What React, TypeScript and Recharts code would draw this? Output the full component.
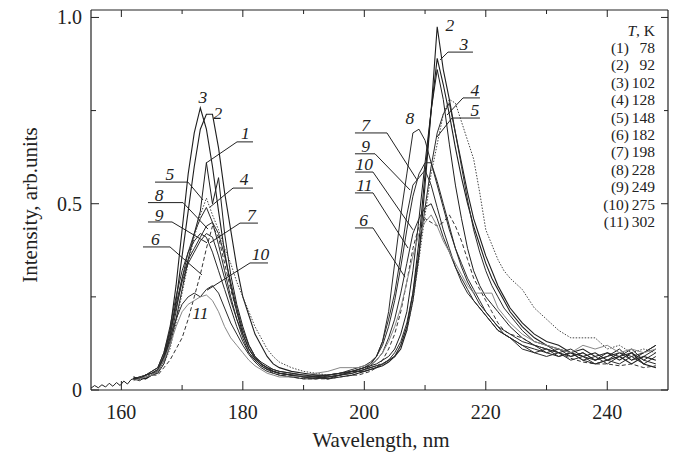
import React from 'react';
import { LineChart, Line, XAxis, YAxis, ReferenceLine, ReferenceDot } from 'recharts';

// ---------------- data ----------------
const wavelengths = [162,163,164,165,166,167,168,169,170,171,172,173,174,175,176,177,178,179,180,181,182,183,184,185,186,188,190,192,194,196,198,199,200,201,202,203,204,205,206,207,208,209,210,211,212,213,214,215,216,217,218,219,220,221,222,223,224,226,228,230,232,234,236,238,240,242,244,246,248];

const leadWavelengths = [155, 155.6, 156.2, 156.8, 157.4, 158, 158.6, 159.2, 159.8, 160.4, 161, 161.6, 162];
const leadIntensity = [0.005, 0.012, 0.006, 0.014, 0.008, 0.018, 0.01, 0.02, 0.012, 0.024, 0.016, 0.028, 0.03];

const curve1 = [0.03,0.025,0.035,0.04,0.045,0.07,0.12,0.19,0.27,0.35, 0.42,0.48,0.61,0.50,0.57,0.42,0.31,0.23,0.17,0.12, 0.09,0.075,0.065,0.055,0.05, 0.045,0.04,0.035,0.04,0.045,0.05, 0.055,0.06,0.065,0.07,0.08,0.09,0.11,0.15,0.21,0.32, 0.46,0.61,0.75,0.86,0.78,0.66,0.55,0.46,0.38,0.32, 0.28,0.25,0.23,0.21,0.19,0.17, 0.14,0.12,0.11,0.10,0.09,0.10,0.08,0.09,0.11,0.08,0.10,0.12];
const curve2 = [0.035,0.03,0.03,0.04,0.05,0.08,0.14,0.24,0.36,0.48, 0.60,0.70,0.74,0.74,0.65,0.53,0.43,0.33,0.25,0.20, 0.15,0.12,0.09,0.07,0.06, 0.05,0.045,0.04,0.04,0.045,0.05, 0.05,0.055,0.06,0.065,0.07,0.08,0.09,0.11,0.16,0.24, 0.36,0.55,0.75,0.975,0.86,0.78,0.69,0.61,0.53,0.46, 0.41,0.36,0.32,0.28,0.25,0.22, 0.18,0.15,0.13,0.12,0.10,0.09,0.10,0.08,0.09,0.07,0.09,0.08];
const curve3 = [0.03,0.035,0.03,0.04,0.05,0.09,0.16,0.28,0.43,0.58, 0.69,0.757,0.70,0.60,0.48,0.37,0.28,0.21,0.15,0.11, 0.085,0.07,0.06,0.05,0.045, 0.04,0.035,0.035,0.03,0.035,0.04, 0.045,0.05,0.055,0.06,0.065,0.075,0.09,0.12,0.17,0.26, 0.40,0.58,0.75,0.89,0.82,0.74,0.65,0.57,0.50,0.44, 0.39,0.34,0.30,0.27,0.24,0.21, 0.17,0.14,0.12,0.11,0.10,0.11,0.09,0.10,0.08,0.10,0.07,0.06];
const curve4 = [0.03,0.03,0.04,0.045,0.05,0.08,0.13,0.21,0.30,0.37, 0.42,0.46,0.49,0.45,0.42,0.36,0.29,0.22,0.16,0.12, 0.09,0.07,0.06,0.055,0.05, 0.045,0.04,0.04,0.035,0.04,0.045, 0.05,0.05,0.055,0.06,0.07,0.08,0.10,0.13,0.18,0.26, 0.37,0.49,0.60,0.69,0.74,0.77,0.69,0.60,0.51,0.43, 0.37,0.32,0.28,0.25,0.22,0.20, 0.16,0.13,0.12,0.10,0.11,0.09,0.08,0.10,0.09,0.11,0.08,0.10];
const curve5 = [0.03,0.035,0.04,0.04,0.05,0.07,0.11,0.18,0.26,0.34, 0.41,0.47,0.515,0.47,0.43,0.38,0.34,0.29,0.25,0.21, 0.17,0.14,0.11,0.09,0.075, 0.06,0.05,0.045,0.04,0.045,0.05, 0.05,0.055,0.06,0.065,0.07,0.08,0.09,0.12,0.16,0.24, 0.35,0.47,0.58,0.66,0.74,0.78,0.77,0.72,0.67,0.62, 0.53,0.43,0.39,0.35,0.32,0.30, 0.27,0.22,0.19,0.16,0.14,0.14,0.14,0.11,0.12,0.10,0.11,0.10];
const curve6 = [0.03,0.03,0.035,0.04,0.04,0.06,0.08,0.11,0.14,0.19, 0.25,0.31,0.38,0.44,0.41,0.34,0.27,0.21,0.16,0.12, 0.09,0.07,0.055,0.045,0.04, 0.035,0.03,0.03,0.03,0.035,0.04, 0.04,0.045,0.05,0.06,0.08,0.11,0.15,0.21,0.29,0.38, 0.44,0.46,0.45,0.44,0.45,0.47,0.44,0.40,0.35,0.30, 0.27,0.24,0.21,0.18,0.16,0.15, 0.14,0.12,0.11,0.10,0.085,0.075,0.07,0.07,0.065,0.07,0.06,0.065];
const curve7 = [0.03,0.03,0.04,0.045,0.055,0.09,0.15,0.22,0.29,0.34, 0.37,0.40,0.42,0.41,0.36,0.30,0.24,0.19,0.15,0.11, 0.085,0.07,0.06,0.05,0.045, 0.04,0.035,0.03,0.035,0.04,0.05, 0.055,0.06,0.07,0.09,0.12,0.17,0.24,0.33,0.43,0.52, 0.58,0.61,0.61,0.56,0.50,0.44,0.38,0.33,0.29,0.26, 0.23,0.21,0.19,0.17,0.16,0.15, 0.13,0.12,0.10,0.09,0.10,0.08,0.09,0.07,0.09,0.10,0.08,0.07];
const curve8 = [0.035,0.03,0.04,0.05,0.06,0.10,0.16,0.23,0.30,0.35, 0.38,0.41,0.44,0.45,0.39,0.32,0.25,0.19,0.14,0.10, 0.08,0.065,0.055,0.05,0.045, 0.04,0.04,0.035,0.04,0.045,0.055, 0.06,0.065,0.075,0.09,0.13,0.21,0.34,0.47,0.58,0.69, 0.70,0.67,0.61,0.55,0.49,0.43,0.38,0.34,0.30,0.27, 0.24,0.21,0.19,0.17,0.15,0.14, 0.12,0.11,0.10,0.11,0.09,0.10,0.08,0.09,0.10,0.08,0.09,0.11];
const curve9 = [0.03,0.035,0.04,0.05,0.06,0.10,0.17,0.25,0.32,0.37, 0.40,0.42,0.41,0.37,0.32,0.27,0.22,0.17,0.13,0.10, 0.08,0.065,0.055,0.05,0.045, 0.04,0.035,0.035,0.03,0.04,0.05, 0.055,0.06,0.07,0.09,0.13,0.19,0.26,0.36,0.47,0.55, 0.57,0.59,0.55,0.49,0.43,0.38,0.33,0.29,0.26,0.24, 0.22,0.20,0.18,0.16,0.15,0.14, 0.12,0.10,0.11,0.09,0.10,0.08,0.07,0.08,0.10,0.09,0.07,0.09];
const curve10 = [0.03,0.03,0.04,0.045,0.055,0.09,0.14,0.19,0.23,0.25, 0.26,0.25,0.27,0.28,0.26,0.22,0.18,0.15,0.12,0.095, 0.075,0.06,0.05,0.045,0.04, 0.035,0.03,0.03,0.035,0.04,0.045, 0.05,0.055,0.065,0.08,0.10,0.14,0.19,0.26,0.34,0.42, 0.46,0.49,0.50,0.46,0.41,0.37,0.33,0.30,0.27,0.24, 0.22,0.20,0.18,0.16,0.15,0.14, 0.11,0.10,0.09,0.10,0.08,0.09,0.07,0.08,0.07,0.09,0.10,0.12];
const curve11 = [0.025,0.03,0.035,0.04,0.05,0.08,0.12,0.17,0.21,0.23, 0.24,0.25,0.255,0.24,0.21,0.17,0.14,0.12,0.10,0.08, 0.065,0.055,0.045,0.04,0.035, 0.035,0.04,0.045,0.05,0.06,0.06, 0.06,0.065,0.07,0.08,0.10,0.13,0.17,0.22,0.29,0.36, 0.42,0.45,0.47,0.44,0.40,0.37,0.34,0.31,0.28,0.26, 0.26,0.26,0.26,0.22,0.20,0.18, 0.15,0.13,0.12,0.11,0.10,0.12,0.11,0.12,0.10,0.11,0.10,0.11];

const curveNumbers = ['1','2','3','4','5','6','7','8','9','10','11'];
const temperatures = [78, 92, 102, 128, 148, 182, 198, 228, 249, 275, 302];

const xTicks = [160, 170, 180, 190, 200, 210, 220, 230, 240];
const xLabeledTicks = [160, 180, 200, 220, 240];
const yTicks = [0, 0.25, 0.5, 0.75, 1.0];
const yTickLabels: Record<string, string> = { '0': '0', '0.5': '0.5', '1': '1.0' };

// curve label annotations (data coordinates): text position, underline, leader
type Ann = { t: string; x: number; y: number; u?: [number, number, number]; l?: [number, number, number, number] };
const annotations: Ann[] = [
  { t: '3', x: 173.44, y: 0.787 },
  { t: '2', x: 175.9, y: 0.744 },
  { t: '1', x: 180.4, y: 0.69, u: [179.04, 181.67, 0.666], l: [179.04, 0.666, 173.93, 0.609] },
  { t: '5', x: 168.0, y: 0.58, u: [165.54, 170.97, 0.558], l: [170.97, 0.558, 173.44, 0.51] },
  { t: '4', x: 180.2, y: 0.566, u: [178.38, 181.67, 0.542], l: [178.38, 0.542, 174.59, 0.491] },
  { t: '8', x: 166.2, y: 0.524, u: [164.38, 170.15, 0.503], l: [170.15, 0.503, 174.26, 0.432] },
  { t: '9', x: 166.2, y: 0.471, u: [164.38, 168.34, 0.451], l: [168.34, 0.451, 174.1, 0.395] },
  { t: '7', x: 181.4, y: 0.47, u: [179.53, 182.49, 0.448], l: [179.53, 0.448, 174.59, 0.395] },
  { t: '6', x: 165.6, y: 0.406, u: [163.56, 168.01, 0.384], l: [168.01, 0.384, 173.27, 0.309] },
  { t: '10', x: 182.9, y: 0.364, u: [181.18, 184.14, 0.341], l: [181.18, 0.341, 174.1, 0.268] },
  { t: '11', x: 173.0, y: 0.207 },
  { t: '2', x: 214.1, y: 0.98 },
  { t: '3', x: 216.4, y: 0.93, u: [213.78, 217.89, 0.907], l: [213.78, 0.907, 212.47, 0.886] },
  { t: '4', x: 218.2, y: 0.806, u: [216.25, 219.04, 0.784], l: [216.25, 0.784, 213.61, 0.738] },
  { t: '5', x: 218.2, y: 0.752, u: [214.43, 219.04, 0.73], l: [214.43, 0.73, 211.96, 0.679] },
  { t: '8', x: 207.5, y: 0.73 },
  { t: '7', x: 200.2, y: 0.712, u: [198.46, 203.73, 0.69], l: [203.73, 0.69, 208.67, 0.564] },
  { t: '9', x: 200.2, y: 0.656, u: [198.46, 201.76, 0.634], l: [201.76, 0.634, 207.52, 0.537] },
  { t: '10', x: 200.0, y: 0.607, u: [198.46, 201.43, 0.585], l: [201.43, 0.585, 208.01, 0.43] },
  { t: '11', x: 200.0, y: 0.551, u: [198.46, 201.43, 0.529], l: [201.43, 0.529, 207.19, 0.381] },
  { t: '6', x: 199.9, y: 0.457, u: [198.46, 201.43, 0.435], l: [201.43, 0.435, 206.7, 0.303] },
];

// ---------------- layout / style ----------------
const W = 675;
const H = 452;
const PLOT_LEFT = 91;
const PLOT_RIGHT = 668;
const PLOT_TOP = 10;
const PLOT_BOTTOM = 390;
const SERIF = "'Liberation Serif', 'Times New Roman', Times, serif";
const INK = '#222';
const serifStyle: React.CSSProperties = { fontFamily: SERIF };

const seriesStyles = [
  { stroke: '#1e1e1e', dash: undefined, width: 1 },
  { stroke: '#1e1e1e', dash: undefined, width: 1.1 },
  { stroke: '#1e1e1e', dash: undefined, width: 1.1 },
  { stroke: '#2a2a2a', dash: undefined, width: 1 },
  { stroke: '#444', dash: '1.5 1.5', width: 1 },
  { stroke: '#333', dash: '4 2.5', width: 1 },
  { stroke: '#2a2a2a', dash: undefined, width: 1 },
  { stroke: '#2a2a2a', dash: undefined, width: 1 },
  { stroke: '#2a2a2a', dash: undefined, width: 1 },
  { stroke: '#2a2a2a', dash: undefined, width: 1 },
  { stroke: '#888', dash: undefined, width: 1 },
];

const allCurves = [curve1, curve2, curve3, curve4, curve5, curve6, curve7, curve8, curve9, curve10, curve11];
const seriesData = allCurves.map((vals) => wavelengths.map((x, i) => ({ x, y: vals[i] })));
const leadData = leadWavelengths.map((x, i) => ({ x, y: leadIntensity[i] }));

const BottomTick = (props: any) => {
  const { x, payload } = props;
  const v = payload.value;
  const major = xLabeledTicks.includes(v);
  return (
    <g>
      <line x1={x} x2={x} y1={PLOT_BOTTOM} y2={PLOT_BOTTOM - (major ? 9 : 5)} stroke={INK} strokeWidth={1} />
      {major && (
        <text x={x} y={PLOT_BOTTOM + 29} textAnchor="middle" fontSize={20} fontFamily={SERIF} style={serifStyle} fill={INK}>
          {v}
        </text>
      )}
    </g>
  );
};

const TopTick = (props: any) => {
  const { x, payload } = props;
  const major = xLabeledTicks.includes(payload.value);
  return <line x1={x} x2={x} y1={PLOT_TOP} y2={PLOT_TOP + (major ? 7 : 4)} stroke={INK} strokeWidth={1} />;
};

const LeftTick = (props: any) => {
  const { y, payload } = props;
  const v = payload.value;
  const label = yTickLabels[String(v)];
  return (
    <g>
      <line x1={PLOT_LEFT} x2={PLOT_LEFT + (label ? 8 : 5)} y1={y} y2={y} stroke={INK} strokeWidth={1} />
      {label && (
        <text x={PLOT_LEFT - 9} y={y + 7} textAnchor="end" fontSize={20} fontFamily={SERIF} style={serifStyle} fill={INK}>
          {label}
        </text>
      )}
    </g>
  );
};

const RightTick = (props: any) => {
  const { y, payload } = props;
  const label = yTickLabels[String(payload.value)];
  return <line x1={PLOT_RIGHT} x2={PLOT_RIGHT - (label ? 7 : 4)} y1={y} y2={y} stroke={INK} strokeWidth={1} />;
};

const labelShape = (t: string) => (p: any) => (
  <text
    x={p.cx}
    y={p.cy + 6}
    textAnchor="middle"
    fontSize={17.5}
    fontStyle="italic"
    fontFamily={SERIF}
    style={serifStyle}
    fill={INK}
  >
    {t}
  </text>
);

export default function App() {
  return (
    <div style={{ position: 'absolute', left: 0, top: 0, width: W, height: H, background: '#fff', fontFamily: SERIF }}>
      <LineChart width={W} height={H} margin={{ top: 0, right: 0, bottom: 0, left: 0 }} style={{ fontFamily: SERIF }}>
        <XAxis
          xAxisId="top"
          orientation="top"
          type="number"
          dataKey="x"
          domain={[155, 250]}
          ticks={xTicks}
          height={PLOT_TOP}
          tick={<TopTick />}
          tickLine={false}
          axisLine={{ stroke: INK, strokeWidth: 1.2 }}
          allowDataOverflow
        />
        <XAxis
          type="number"
          dataKey="x"
          domain={[155, 250]}
          ticks={xTicks}
          height={H - PLOT_BOTTOM}
          tick={<BottomTick />}
          tickLine={false}
          axisLine={{ stroke: INK, strokeWidth: 1.2 }}
          allowDataOverflow
        />
        <YAxis
          type="number"
          domain={[0, 1.02]}
          ticks={yTicks}
          width={PLOT_LEFT}
          tick={<LeftTick />}
          tickLine={false}
          axisLine={{ stroke: INK, strokeWidth: 1.2 }}
          allowDataOverflow
        />
        <YAxis
          yAxisId="right"
          orientation="right"
          type="number"
          domain={[0, 1.02]}
          ticks={yTicks}
          width={W - PLOT_RIGHT}
          tick={<RightTick />}
          tickLine={false}
          axisLine={{ stroke: INK, strokeWidth: 1.2 }}
          allowDataOverflow
        />

        <Line
          data={leadData}
          dataKey="y"
          type="linear"
          stroke="#1e1e1e"
          strokeWidth={1}
          dot={false}
          isAnimationActive={false}
        />
        {seriesData.map((d, i) => (
          <Line
            key={curveNumbers[i]}
            data={d}
            dataKey="y"
            name={curveNumbers[i]}
            type="linear"
            stroke={seriesStyles[i].stroke}
            strokeWidth={seriesStyles[i].width}
            strokeDasharray={seriesStyles[i].dash}
            dot={false}
            isAnimationActive={false}
          />
        ))}

        {annotations.map((a, i) =>
          a.u ? (
            <ReferenceLine
              key={'u' + i}
              segment={[{ x: a.u[0], y: a.u[2] }, { x: a.u[1], y: a.u[2] }]}
              stroke={INK}
              strokeWidth={1}
            />
          ) : null
        )}
        {annotations.map((a, i) =>
          a.l ? (
            <ReferenceLine
              key={'l' + i}
              segment={[{ x: a.l[0], y: a.l[1] }, { x: a.l[2], y: a.l[3] }]}
              stroke={INK}
              strokeWidth={1}
            />
          ) : null
        )}
        {annotations.map((a, i) => (
          <ReferenceDot key={'t' + i} x={a.x} y={a.y} r={1} shape={labelShape(a.t)} />
        ))}
      </LineChart>

      <svg
        width={W}
        height={H}
        style={{ position: 'absolute', left: 0, top: 0, pointerEvents: 'none' }}
        fontFamily={SERIF}
      >
        <text x={381} y={447} textAnchor="middle" fontSize={21} fontFamily={SERIF} fill={INK}>
          Wavelength, nm
        </text>
        <text
          transform="translate(37, 205) rotate(-90)"
          textAnchor="middle"
          fontSize={21}
          fontFamily={SERIF}
          fill={INK}
        >
          Intensity, arb.units
        </text>
        <text x={655} y={36} textAnchor="end" fontSize={15.5} fontFamily={SERIF} fill={INK}>
          <tspan fontStyle="italic">T</tspan>, K
        </text>
        {temperatures.map((t, i) => (
          <g key={i}>
            <text x={629} y={53 + i * 17.4} textAnchor="end" fontSize={15.5} fontFamily={SERIF} fill={INK}>
              ({curveNumbers[i]})
            </text>
            <text x={655} y={53 + i * 17.4} textAnchor="end" fontSize={15.5} fontFamily={SERIF} fill={INK}>
              {t}
            </text>
          </g>
        ))}
      </svg>
    </div>
  );
}
